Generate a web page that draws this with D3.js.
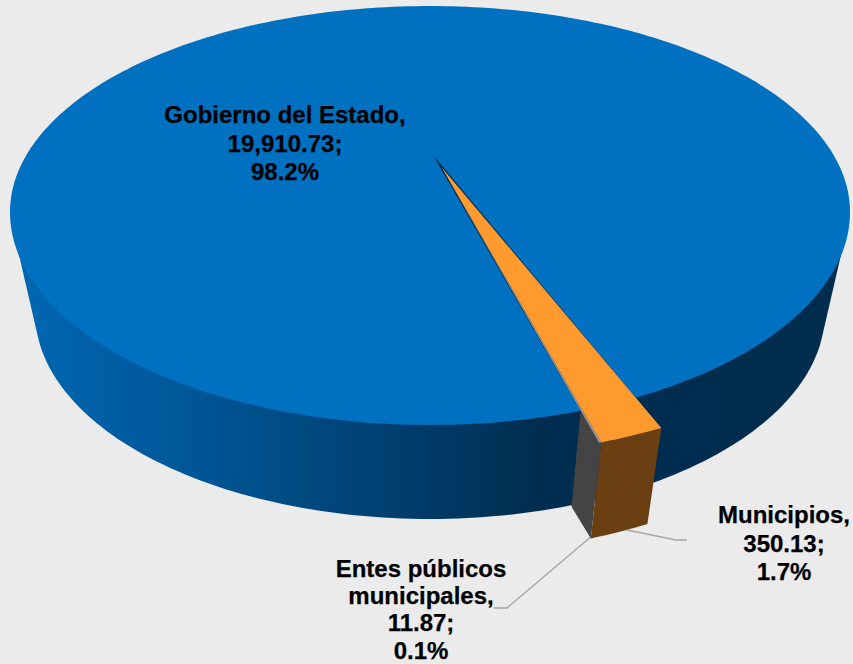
<!DOCTYPE html>
<html>
<head>
<meta charset="utf-8">
<script src="https://cdn.jsdelivr.net/npm/d3@7"></script>
<style>
html,body{margin:0;padding:0;background:#ebebeb;overflow:hidden}
svg{display:block}
text{font-family:"Liberation Sans",Arial,sans-serif;font-weight:700;font-size:24px;fill:#000;stroke:#000;stroke-width:0.25px;text-anchor:middle}
</style>
</head>
<body>
<svg id="c" width="853" height="664"></svg>
<script>
// Data
const categories = ["Municipios", "Entes públicos municipales", "Gobierno del Estado"];
const amounts = [350.13, 11.87, 19910.73];
const percents = ["1.7%", "0.1%", "98.2%"];

// 3D projection of the pie (tilted, perspective look)
const W = 853, H = 664;
const rim = {cx: 430, cy: 212, rx: 420, up: 206, low: 213};
const base = {cx: 430, cy: 312, rx: 395, ry: 207};
const apex = [433, 155];
const AX = 2.07;          // horizontal stretch of the pie plane
const EXPLODE = 1.125;
const DEPTH = 96, CONVERGE = 0.06;

const svg = d3.select("#c");
const line = d3.line();
const closed = d3.line().curve(d3.curveLinearClosed);

const colors = {
  top: ["#ff9a2f", "#9a9a9a", "#0070c0"],
  side: ["#6a3f12", "#444444"]
};

// Slice angles come from d3.pie
const arcs = d3.pie().sort(null)
  .startAngle(158 * Math.PI / 180)
  .endAngle((158 + 360) * Math.PI / 180)(amounts);

function inRim(x, y) {
  const r = y > rim.cy ? rim.low : rim.up;
  return ((x - rim.cx) / rim.rx) ** 2 + ((y - rim.cy) / r) ** 2 <= 1;
}
// Point where a ray from the apex at pie angle a leaves the rim
function rimPoint(a) {
  const t = a - Math.PI / 2;
  const dx = AX * Math.cos(t), dy = Math.sin(t);
  let lo = 0, hi = 1000;
  for (let i = 0; i < 40; i++) {
    const m = (lo + hi) / 2;
    if (inRim(apex[0] + dx * m, apex[1] + dy * m)) lo = m; else hi = m;
  }
  return [apex[0] + dx * lo, apex[1] + dy * lo];
}
function scaled(p, f) {
  return [apex[0] + (p[0] - apex[0]) * f, apex[1] + (p[1] - apex[1]) * f];
}
function drop(p) {
  return [p[0] - CONVERGE * (p[0] - rim.cx), p[1] + DEPTH];
}
function rimSamples(a0, a1, f) {
  return d3.range(0, 9).map(i => scaled(rimPoint(a0 + (a1 - a0) * i / 8), f));
}

const defs = svg.append("defs");
const wallStops = [
  [10, "#0068b3"], [120, "#005da3"], [230, "#005290"], [300, "#004a82"],
  [400, "#003e6e"], [470, "#00365f"], [540, "#002d50"], [853, "#002d4e"]
];
const gx = d3.scaleLinear().domain([0, W]).range([0, 100]);
defs.append("linearGradient").attr("id", "wall")
  .attr("gradientUnits", "userSpaceOnUse")
  .attr("x1", 0).attr("x2", W).attr("y1", 0).attr("y2", 0)
  .selectAll("stop").data(wallStops).join("stop")
  .attr("offset", d => gx(d[0]) + "%")
  .attr("stop-color", d => d[1]);

// Leader lines sit beneath the slices
const leaders = [
  [[622, 529], [676, 540], [687, 540]],
  [[593, 535], [507, 608], [494, 608]]
];
svg.selectAll("path.leader").data(leaders).join("path").attr("class", "leader")
  .attr("d", d => line(d)).attr("fill", "none")
  .attr("stroke", "#a6a6a6").attr("stroke-width", 1.4);

// Outer wall: silhouette from rim widest point down to the base ellipse
const A0 = 0.135;
const wallPts = [[rim.cx - rim.rx + 1, rim.cy + 8]]
  .concat(d3.range(0, 121).map(i => {
    const a = Math.PI - A0 - (Math.PI - 2 * A0) * i / 120;
    return [base.cx + base.rx * Math.cos(a), base.cy + base.ry * Math.sin(a)];
  }))
  .concat([[rim.cx + rim.rx - 1, rim.cy + 8]]);
svg.append("path").attr("d", closed(wallPts)).attr("fill", "url(#wall)");

// Top face of the large slice
const rimPts = d3.range(0, 360).map(i => {
  const a = i * Math.PI / 180;
  const s = Math.sin(a);
  return [rim.cx + rim.rx * Math.cos(a), rim.cy + (s > 0 ? rim.low : rim.up) * s];
});
svg.append("path").attr("d", closed(rimPts)).attr("fill", colors.top[2]);

const [mun, ent] = arcs;

// Dark notch left by the exploded slices
svg.append("path")
  .attr("d", closed([apex].concat(rimSamples(mun.startAngle, ent.endAngle, 1))))
  .attr("fill", "#002d4e");

// Front face of Municipios
const front = rimSamples(mun.startAngle, mun.endAngle, EXPLODE);
const corner = front[8];

// Cut face beside the exploded slices
const innerP = rimPoint(ent.endAngle);
const entOuter = scaled(innerP, EXPLODE);
svg.append("path")
  .attr("d", closed([innerP, entOuter, corner, drop(corner), drop(innerP)]))
  .attr("fill", colors.side[1]);

svg.append("path")
  .attr("d", closed(front.concat(front.slice().reverse().map(drop))))
  .attr("fill", colors.side[0]);

// Exploded apex
const midRim = rimPoint((mun.startAngle + ent.endAngle) / 2);
const tip = scaled(midRim, 0.05);

// Entes sliver top
svg.append("path")
  .attr("d", closed([tip, corner, entOuter]))
  .attr("fill", colors.top[1]);

// Municipios top
svg.append("path")
  .attr("d", closed([tip].concat(front)))
  .attr("fill", colors.top[0]);

// Data labels
const fmt = d3.format(",.2f");
const labelLines = [
  ["Municipios,", fmt(amounts[0]) + ";", percents[0]],
  ["Entes públicos", "municipales,", fmt(amounts[1]) + ";", percents[1]],
  ["Gobierno del Estado,", fmt(amounts[2]) + ";", percents[2]]
];
const labelPos = [[784, 523, 28.5], [421, 577, 27.2], [285, 123, 28.5]];
labelLines.forEach((ls, k) => {
  const t = svg.append("text");
  ls.forEach((s, i) => {
    t.append("tspan").attr("x", labelPos[k][0]).attr("y", labelPos[k][1] + i * labelPos[k][2]).text(s);
  });
});
</script>
</body>
</html>
